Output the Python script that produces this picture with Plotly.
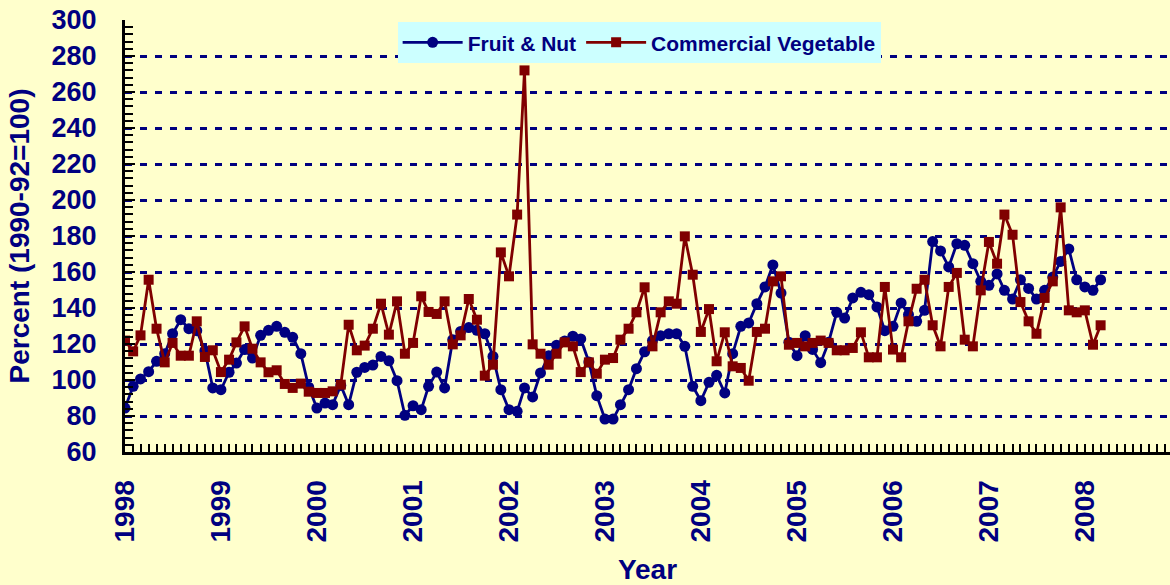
import pandas as pd
import plotly.graph_objects as go

# Monthly index values, Jan 1998 - Mar 2008
start_month = "1998-01-01"
n_months = 123

fruit_nut = [
    84.4, 96.5, 100.6, 104.6, 110.4, 114.6, 125.7, 133.5, 128.5, 127.4, 116.3, 95.6,
    94.6, 104.3, 109.4, 116.9, 112.2, 124.8, 127.6, 129.8, 126.5, 123.7, 114.6, 96.0,
    84.4, 87.2, 86.3, 97.0, 86.3, 104.3, 107.0, 108.3, 113.1, 110.7, 99.6, 80.4,
    85.7, 83.5, 96.5, 104.4, 95.6, 122.4, 127.0, 129.1, 127.6, 125.7, 113.1, 94.6,
    83.5, 82.6, 95.6, 90.6, 103.9, 113.5, 119.3, 121.7, 124.3, 122.8, 110.0, 91.3,
    78.3, 78.3, 86.3, 94.6, 106.3, 115.7, 121.9, 124.6, 125.7, 125.7, 118.7, 96.5,
    88.5, 98.7, 102.6, 92.8, 114.6, 129.8, 131.7, 142.4, 151.7, 163.9, 148.3, 121.0,
    113.5, 124.6, 117.0, 109.6, 121.0, 137.6, 134.4, 145.6, 148.7, 147.4, 140.6, 127.4,
    129.8, 142.8, 136.3, 132.6, 138.7, 176.9, 171.7, 162.8, 175.7, 174.8, 164.6, 154.8,
    152.6, 158.9, 149.8, 145.0, 155.7, 150.9, 145.0, 149.8, 157.2, 165.9, 172.8, 155.7,
    151.7, 149.8, 155.7,
]

commercial_vegetable = [
    121.9, 115.9, 124.8, 155.7, 128.5, 109.8, 120.6, 113.5, 113.5, 132.6, 112.8, 116.5,
    104.4, 111.3, 120.9, 129.8, 117.4, 109.8, 104.3, 105.4, 97.8, 95.6, 98.0, 93.5,
    92.8, 92.8, 93.7, 97.4, 130.7, 116.5, 119.1, 128.5, 142.4, 125.2, 143.7, 114.6,
    120.6, 146.5, 137.8, 136.7, 143.7, 119.8, 124.8, 145.0, 133.5, 102.4, 108.5, 170.9,
    157.6, 191.9, 272.0, 119.8, 114.6, 108.5, 114.6, 120.9, 118.7, 104.4, 109.8, 103.5,
    111.3, 112.2, 122.4, 128.5, 137.6, 151.5, 118.7, 137.6, 143.7, 142.4, 179.8, 158.5,
    126.7, 139.4, 110.4, 126.5, 107.6, 106.7, 99.6, 126.7, 128.5, 154.8, 157.6, 119.6,
    120.6, 118.7, 120.6, 121.9, 120.6, 116.5, 116.5, 117.8, 126.5, 112.6, 112.6, 151.7,
    116.9, 112.6, 132.6, 150.7, 155.7, 130.4, 118.7, 151.7, 159.5, 122.4, 118.7, 149.8,
    176.7, 164.6, 191.9, 180.7, 143.3, 132.6, 125.7, 145.6, 154.8, 195.9, 138.7, 137.6,
    138.7, 119.6, 130.4,
]

series_names = ["Fruit & Nut", "Commercial Vegetable"]
y_ticks = list(range(60, 301, 20))

months = pd.date_range(start_month, periods=n_months, freq="MS")

NAVY = "#000080"
MAROON = "#800000"
BG = "#FFFFCC"
FONT = "Liberation Sans, Arial, sans-serif"

fig = go.Figure()
fig.add_trace(go.Scatter(
    x=months, y=fruit_nut, name=series_names[0], mode="lines+markers",
    line=dict(color=NAVY, width=2.8),
    marker=dict(symbol="circle", size=11, color=NAVY),
))
fig.add_trace(go.Scatter(
    x=months, y=commercial_vegetable, name=series_names[1], mode="lines+markers",
    line=dict(color=MAROON, width=2.8),
    marker=dict(symbol="square", size=10, color=MAROON),
))

fig.update_layout(
    width=1170, height=585,
    margin=dict(l=125, r=0, t=20, b=133),
    paper_bgcolor=BG, plot_bgcolor=BG,
    font=dict(family=FONT, color=NAVY, size=22),
    showlegend=True,
    legend=dict(
        orientation="h", x=0.492, xanchor="center", y=0.995, yanchor="top",
        bgcolor="#CCFFFF", font=dict(family=FONT, size=21, color=NAVY, weight="bold"),
        itemwidth=60, tracegroupgap=0,
    ),
    xaxis=dict(
        type="date",
        range=["1998-01-01", "2008-11-20"],
        tickformat="%Y", dtick="M12", tick0="1998-01-01",
        tickangle=-90,
        tickfont=dict(family=FONT, size=28, color=NAVY, weight="bold"),
        ticks="inside", ticklen=8, tickwidth=2, tickcolor="black",
        minor=dict(dtick="M1", ticks="inside", ticklen=8, tickwidth=2, tickcolor="black"),
        showline=True, linecolor="black", linewidth=3,
        showgrid=False, zeroline=False,
        ticklabelstandoff=14,
        automargin=False,
        title=dict(text="<b>Year</b>", font=dict(family=FONT, size=28, color=NAVY), standoff=19),
    ),
    yaxis=dict(
        range=[60, 300],
        tickvals=y_ticks,
        tickfont=dict(family=FONT, size=27, color=NAVY, weight="bold"),
        ticks="inside", ticklen=10, tickwidth=2, tickcolor="black",
        minor=dict(dtick=4, ticks="inside", ticklen=8, tickwidth=2, tickcolor="black", showgrid=False),
        showline=True, linecolor="black", linewidth=3,
        showgrid=True, gridcolor=NAVY, gridwidth=3, griddash="7px,8px",
        zeroline=False,
        ticklabelstandoff=20,
        automargin=False,
        title=dict(text="<b>Percent (1990-92=100)</b>", font=dict(family=FONT, size=28, color=NAVY), standoff=14),
    ),
)

fig.write_html("out.html", config={"displayModeBar": False},
               post_script="document.body.style.margin='0';")
